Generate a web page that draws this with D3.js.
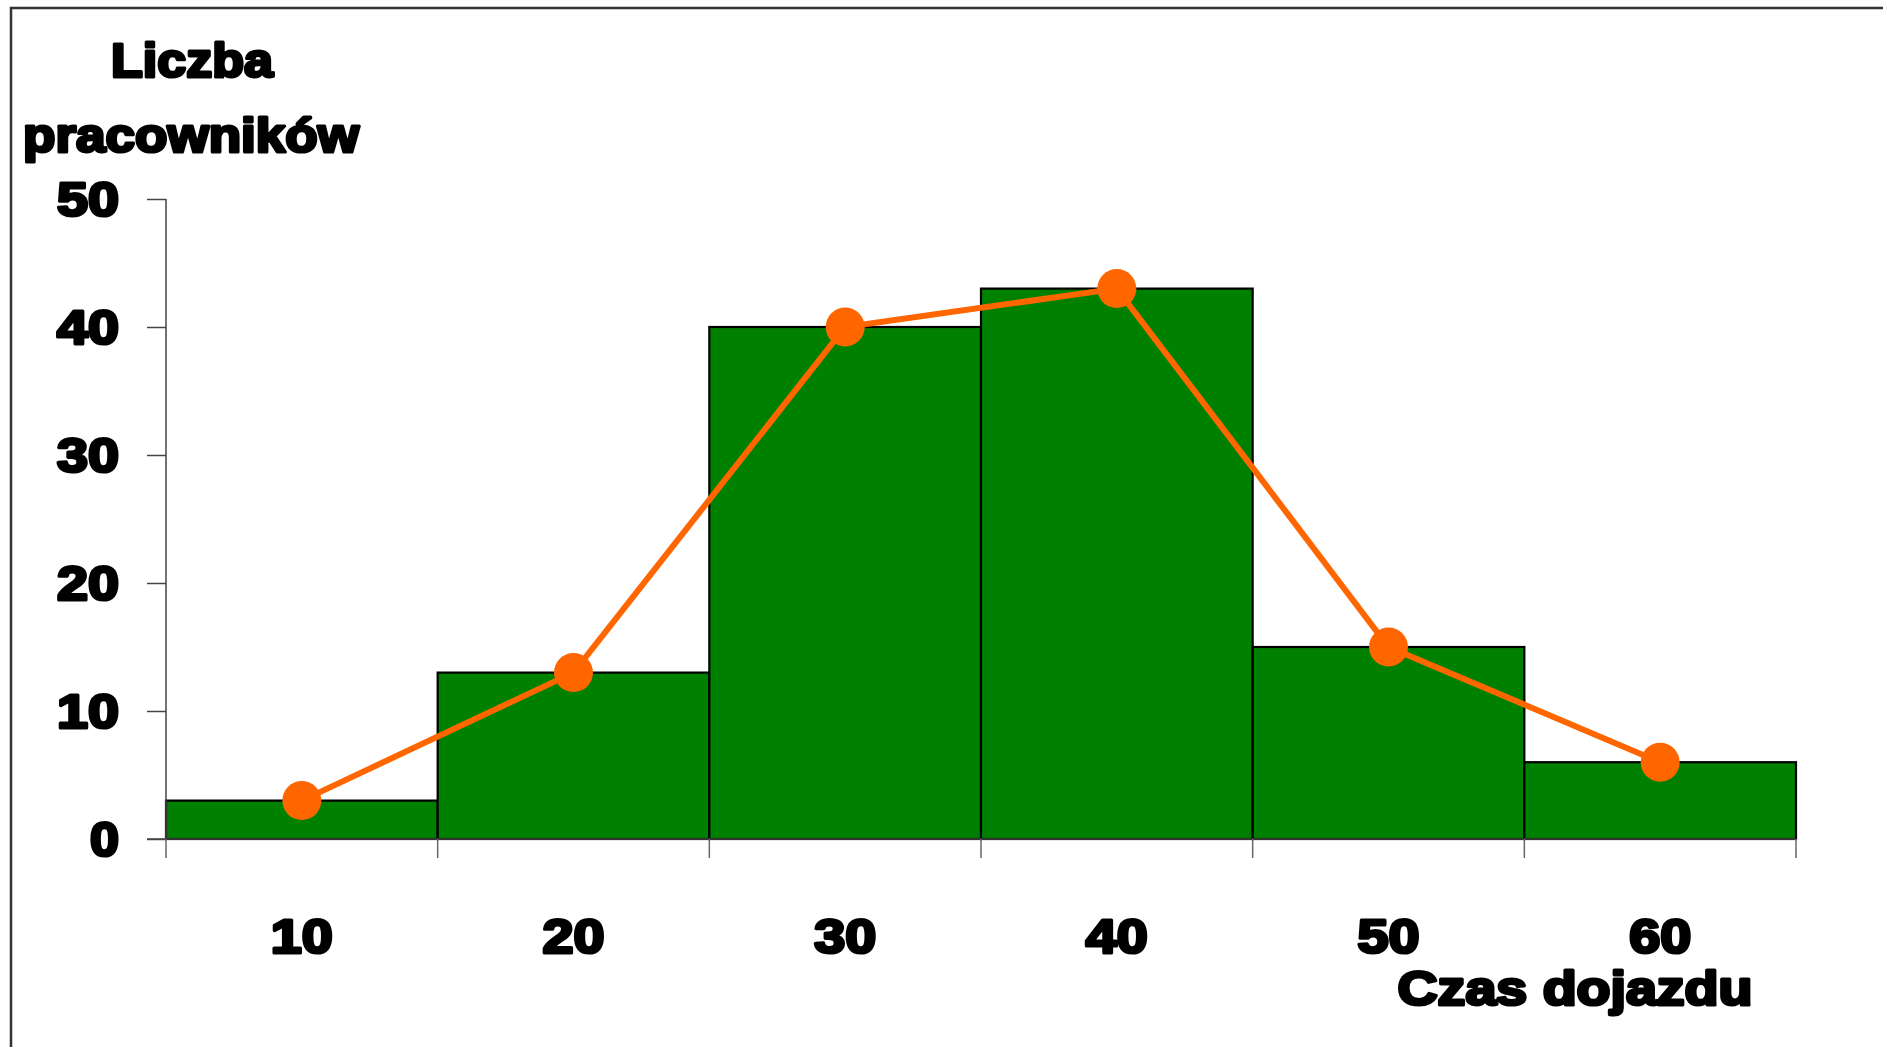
<!DOCTYPE html>
<html>
<head>
<meta charset="utf-8">
<script src="https://cdn.jsdelivr.net/npm/d3@7"></script>
<style>
  html, body { margin: 0; padding: 0; background: #fff; }
  svg { display: block; }
  text { font-family: "Liberation Sans", Arial, sans-serif; font-weight: bold; fill: #000; stroke: #000; stroke-width: 3.2px; stroke-linejoin: round; paint-order: stroke; }
</style>
</head>
<body>
<svg id="chart" width="1883" height="1047"></svg>
<script>
// Commute time classes and number of employees in each class
const categories = ["10", "20", "30", "40", "50", "60"];
const counts = [3, 13, 40, 43, 15, 6];
const yTicks = [0, 10, 20, 30, 40, 50];
const yTitleLines = ["Liczba", "pracowników"];
const xTitle = "Czas dojazdu";

const svg = d3.select("#chart");
const W = 1883, H = 1047;
const FONT = 49;

// heavy label widths (the face is stretched to a black-weight look)
const labelWidth = s => s.length === 1 ? 29 : 62;

// outer frame
svg.append("rect")
  .attr("x", 11).attr("y", 8)
  .attr("width", W + 20).attr("height", H + 20)
  .attr("fill", "none").attr("stroke", "#333").attr("stroke-width", 2.5);

const plotLeft = 166, plotRight = 1796, plotTop = 199, plotBottom = 839;

const x = d3.scaleBand().domain(categories).range([plotLeft, plotRight]).padding(0);
const y = d3.scaleLinear().domain([0, 50]).range([plotBottom, plotTop]);

// histogram bars
svg.append("g").selectAll("rect")
  .data(counts)
  .join("rect")
  .attr("x", (d, i) => x(categories[i]))
  .attr("y", d => y(d))
  .attr("width", x.bandwidth())
  .attr("height", d => y(0) - y(d))
  .attr("fill", "#008000")
  .attr("stroke", "#000")
  .attr("stroke-width", 2.2);

// y axis
const yAxis = d3.axisLeft(y).tickValues(yTicks).tickSize(19).tickPadding(28);
const gy = svg.append("g").attr("transform", `translate(${plotLeft},0)`).call(yAxis);
gy.select(".domain").attr("stroke", "#444").attr("stroke-width", 1.5).attr("d", `M0,${plotBottom}V${plotTop}`);
gy.selectAll(".tick line").attr("stroke", "#444").attr("stroke-width", 1.5);
gy.selectAll(".tick text")
  .attr("font-size", FONT)
  .attr("dy", "0.34em")
  .attr("fill", "#000")
  .attr("textLength", d => labelWidth(String(d)))
  .attr("lengthAdjust", "spacingAndGlyphs")
  .style("font-family", "Liberation Sans, Arial, sans-serif");

// x axis: ticks at class boundaries, labels centred in the classes
const gx = svg.append("g").attr("transform", `translate(0,${plotBottom})`);
gx.append("line").attr("x1", plotLeft - 19).attr("x2", plotRight).attr("y1", 0).attr("y2", 0)
  .attr("stroke", "#444").attr("stroke-width", 1.5);
const edges = categories.map(c => x(c)).concat([plotRight]);
gx.selectAll("line.edge").data(edges).join("line").attr("class", "edge")
  .attr("x1", d => d).attr("x2", d => d).attr("y1", 0).attr("y2", 19)
  .attr("stroke", "#666").attr("stroke-width", 1.5);
gx.selectAll("text.xl").data(categories).join("text").attr("class", "xl")
  .attr("x", d => x(d) + x.bandwidth() / 2)
  .attr("y", 114)
  .attr("text-anchor", "middle")
  .attr("font-size", FONT)
  .attr("textLength", d => labelWidth(d))
  .attr("lengthAdjust", "spacingAndGlyphs")
  .text(d => d);

// frequency polygon
const cx = (d, i) => x(categories[i]) + x.bandwidth() / 2;
svg.append("path")
  .datum(counts)
  .attr("d", d3.line().x(cx).y(d => y(d)))
  .attr("fill", "none")
  .attr("stroke", "#FF6600")
  .attr("stroke-width", 6);
svg.append("g").selectAll("circle")
  .data(counts)
  .join("circle")
  .attr("cx", cx)
  .attr("cy", d => y(d))
  .attr("r", 19.5)
  .attr("fill", "#FF6600");

// axis titles
const title = (txt, cxPos, base, len) =>
  svg.append("text").attr("x", cxPos).attr("y", base).attr("text-anchor", "middle")
    .attr("font-size", FONT).attr("textLength", len).attr("lengthAdjust", "spacingAndGlyphs")
    .text(txt);
title(yTitleLines[0], 192, 77, 162);
title(yTitleLines[1], 191, 152, 336);
title(xTitle, 1575, 1005, 355);
</script>
</body>
</html>
